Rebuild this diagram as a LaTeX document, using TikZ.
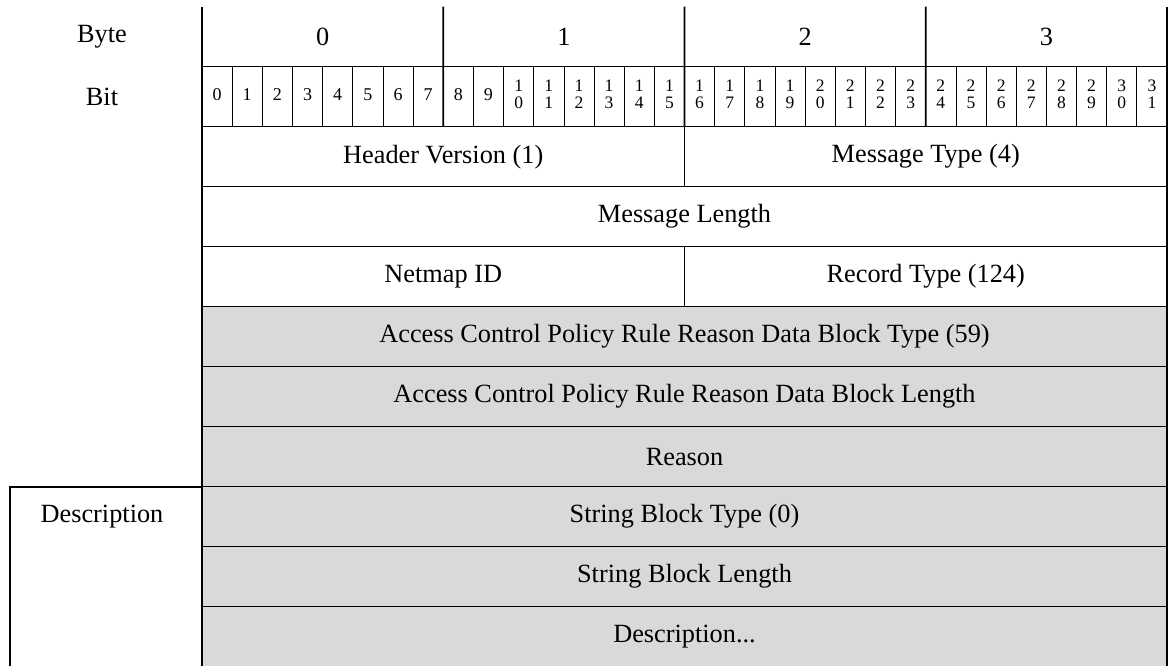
\documentclass[tikz,border=0pt]{standalone}
\usepackage{fontspec}
\setmainfont{Liberation Serif}
\usetikzlibrary{positioning}

\definecolor{cellgrey}{HTML}{D9D9D9}
\def\splitdig#1#2\relax{#1\\#2}

\tikzset{
  field/.style={rectangle, draw=black, line width=1.2pt, minimum height=60pt, inner sep=0pt, outer sep=0pt, anchor=north west, font=\fontsize{26.3}{30}\selectfont},
  greyfield/.style={field, fill=cellgrey, line width=0.9pt},
  bytecell/.style={rectangle, minimum width=241.25pt, minimum height=60pt, inner sep=0pt, outer sep=0pt, anchor=north west, font=\fontsize{26.3}{30}\selectfont},
  bitcell/.style={rectangle, draw=black, line width=0.7pt, minimum width=30.156pt, minimum height=60pt, inner sep=0pt, outer sep=0pt, anchor=north west},
  bitnum/.style={inner sep=0pt, font=\fontsize{18}{18}\selectfont},
  bitnumtwo/.style={inner sep=0pt, align=center, font=\fontsize{17.5}{17}\selectfont},
  sidelabel/.style={rectangle, minimum width=200pt, minimum height=60pt, inner sep=0pt, outer sep=0pt, font=\fontsize{26.3}{30}\selectfont},
  frame/.style={black, line width=1.6pt},
}

\begin{document}
\begin{tikzpicture}[x=1pt, y=-1pt]
\useasboundingbox (0,0) rectangle (1170,666);

% byte and bit header
\foreach \k in {0,...,3}
  \node[bytecell] (byte\k) at ({202+\k*241.25},6.7) {\k};
\foreach \b in {0,...,31}
  \node[bitcell] (bit\b) at ({202+\b*30.156},66.7) {};
\foreach \b in {0,...,9}
  \node[bitnum] (num\b) at ([yshift=2.2pt]bit\b.center) {\b};
\foreach \b in {10,...,31}
  \node[bitnumtwo] (num\b) at ([yshift=2.7pt]bit\b.center) {\expandafter\splitdig\b\relax};

\node[sidelabel, left=0pt of byte0] (bytelbl) {Byte};
\node[sidelabel, left=0pt of bit0] (bitlbl) {Bit};

% header fields
\node[field, minimum width=482.5pt] (hdrver) at (202,126.7) {Header Version (1)};
\node[field, minimum width=482.5pt] (msgtype) at (684.5,126.7) {Message Type (4)};
\node[field, minimum width=965pt] (msglen) at (202,186.7) {Message Length};
\node[field, minimum width=482.5pt] (netmap) at (202,246.7) {Netmap ID};
\node[field, minimum width=482.5pt] (rectype) at (684.5,246.7) {Record Type (124)};

% data block
\node[greyfield, minimum width=965pt] (acptype) at (202,306.7) {Access Control Policy Rule Reason Data Block Type (59)};
\node[greyfield, minimum width=965pt] (acplen) at (202,366.7) {Access Control Policy Rule Reason Data Block Length};
\node[greyfield, minimum width=965pt] (reason) at (202,426.7) {Reason};
\node[greyfield, minimum width=965pt] (strtype) at (202,486.7) {String Block Type (0)};
\node[greyfield, minimum width=965pt] (strlen) at (202,546.7) {String Block Length};
\node[greyfield, minimum width=965pt] (strdata) at (202,606.7) {Description...};

\node[sidelabel, left=0pt of strtype] (desclbl) {Description};
\coordinate (boxcorner) at ([xshift=8pt]desclbl.north west);

% thick frame lines
\draw[frame] (bit0.north west) -- (bit31.north east);
\foreach \k/\b in {1/8,2/16,3/24}
  \draw[frame] (byte\k.north west) -- (bit\b.south west);
\draw[frame] (byte0.north west) -- (strdata.south west);
\draw[frame] (byte3.north east) -- (strdata.south east);
\draw[frame] (desclbl.north east) -- (boxcorner) -- (boxcorner |- strdata.south);
\end{tikzpicture}
\end{document}
